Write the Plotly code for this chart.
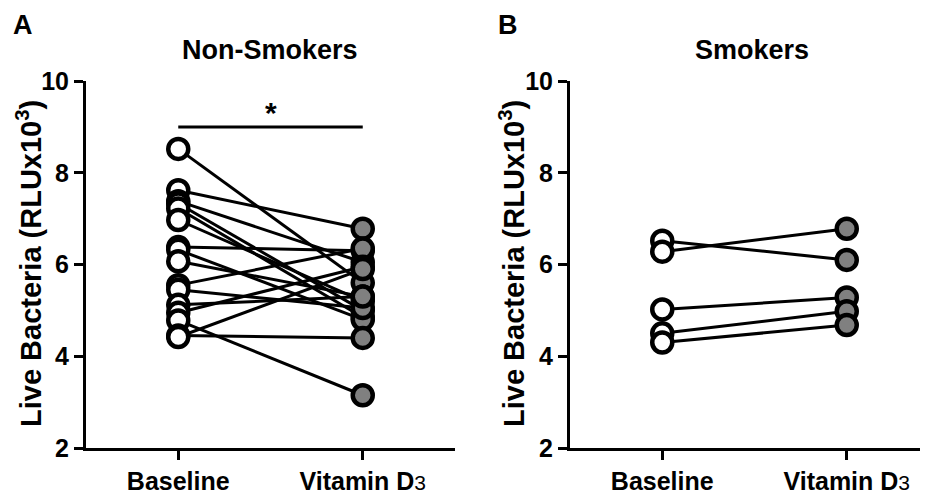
import plotly.graph_objects as go

# ---- data ----
categories = ["Baseline", "Vitamin D3"]
nonsmokers_baseline = [8.52, 7.62, 7.38, 7.33, 7.22, 6.97, 6.38, 6.32, 6.07, 5.55, 5.45, 5.12, 4.95, 4.78, 4.45, 4.42]
nonsmokers_vitd     = [5.60, 6.78, 6.05, 5.00, 4.85, 5.20, 6.30, 4.80, 5.30, 6.35, 5.05, 5.30, 5.95, 3.15, 4.40, 5.90]
smokers_baseline = [6.52, 6.28, 5.02, 4.50, 4.30]
smokers_vitd     = [6.10, 6.78, 5.28, 4.98, 4.68]
y_ticks = [2, 4, 6, 8, 10]
panel_titles = ["Non-Smokers", "Smokers"]
y_title = "Live Bacteria (RLUx10<sup>3</sup>)"
sig_label = "*"

W, H = 928, 494
OFF = 8  # page body margin
FONT = "Liberation Sans, Arial, Helvetica, sans-serif"
tick_text = ["Baseline", "Vitamin D<span style='font-weight:normal;font-size:21px'>3</span>"]

def px(x):
    return (x - OFF) / W

def py(y):
    return 1 - (y - OFF) / H

fig = go.Figure()

def add_panel(base, vit, xa, ya):
    lx, ly = [], []
    for b, v in zip(base, vit):
        lx += [0, 1, None]
        ly += [b, v, None]
    fig.add_trace(go.Scatter(x=lx, y=ly, mode="lines", line=dict(color="black", width=3),
                             xaxis=xa, yaxis=ya, hoverinfo="skip", cliponaxis=False))
    fig.add_trace(go.Scatter(x=[0] * len(base), y=base, mode="markers",
                             marker=dict(size=20, color="white", line=dict(color="black", width=4.5)),
                             xaxis=xa, yaxis=ya, cliponaxis=False))
    fig.add_trace(go.Scatter(x=[1] * len(vit), y=vit, mode="markers",
                             marker=dict(size=20, color="#808080", line=dict(color="black", width=4.5)),
                             xaxis=xa, yaxis=ya, cliponaxis=False))

add_panel(nonsmokers_baseline, nonsmokers_vitd, "x", "y")
add_panel(smokers_baseline, smokers_vitd, "x2", "y2")

ydom = [py(448), py(81)]
xdomA = [px(86), px(455)]
xdomB = [px(570), 1.0]
unit = (455 - 86) / 2.0

axis_common = dict(showline=True, linecolor="black", linewidth=3, ticks="outside",
                   tickwidth=3, tickcolor="black", ticklen=9, showgrid=False, zeroline=False,
                   automargin=False,
                   tickfont=dict(family=FONT, size=25, color="black", weight="bold"))

fig.update_layout(
    template="none",
    width=W, height=H, margin=dict(l=0, r=0, t=0, b=0, pad=0),
    plot_bgcolor="white", paper_bgcolor="white", showlegend=False,
    xaxis=dict(domain=xdomA, range=[-0.5, 1.5], tickvals=[0, 1], ticktext=tick_text,
               anchor="y", **axis_common),
    yaxis=dict(domain=ydom, range=[2, 10], tickvals=y_ticks, anchor="x", **axis_common),
    xaxis2=dict(domain=xdomB, range=[-0.5, -0.5 + (W + OFF - 570) / unit], tickvals=[0, 1],
                ticktext=tick_text, anchor="y2", **axis_common),
    yaxis2=dict(domain=ydom, range=[2, 10], tickvals=y_ticks, anchor="x2", **axis_common),
)

# significance bar
fig.add_shape(type="line", xref="x", yref="y", x0=0, x1=1, y0=9.0, y1=9.0,
              line=dict(color="black", width=3))
fig.add_annotation(xref="x", yref="y", x=0.5, y=9.0, text=sig_label, showarrow=False,
                   yanchor="bottom", yshift=-4, font=dict(family=FONT, size=30, color="black", weight="bold"))

# panel titles
for xc, t in zip([270, 752], panel_titles):
    fig.add_annotation(xref="paper", yref="paper", x=px(xc), y=py(50), text=t, showarrow=False,
                       xanchor="center", yanchor="middle",
                       font=dict(family=FONT, size=27, color="black", weight="bold"))
# panel letters
for xc, t in zip([23, 508], ["A", "B"]):
    fig.add_annotation(xref="paper", yref="paper", x=px(xc), y=py(25), text=t, showarrow=False,
                       xanchor="center", yanchor="middle",
                       font=dict(family=FONT, size=27, color="black", weight="bold"))
# y titles
for xc in [29, 512]:
    fig.add_annotation(xref="paper", yref="paper", x=px(xc), y=py(264), text=y_title,
                       showarrow=False, textangle=-90, xanchor="center", yanchor="middle",
                       font=dict(family=FONT, size=29, color="black", weight="bold"))

fig.write_html("out.html")
